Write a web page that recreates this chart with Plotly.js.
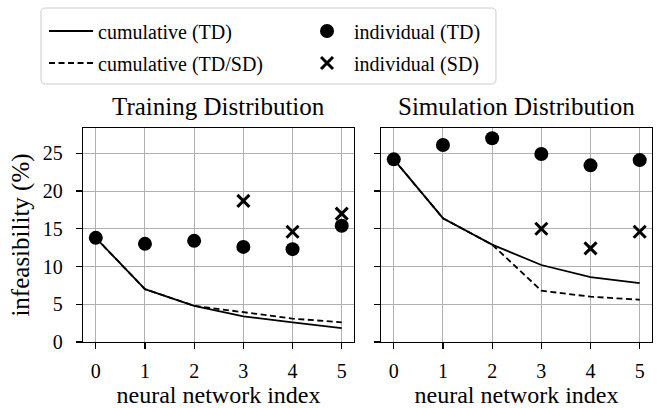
<!DOCTYPE html>
<html>
<head>
<meta charset="utf-8">
<script src="https://cdn.plot.ly/plotly-3.0.1.min.js"></script>
<style>html,body{margin:0;padding:0;background:#fff;}#chart{width:657px;height:408px;}</style>
</head>
<body>
<div id="chart"></div>
<script>
// ---- data ----
const nnIndex = [0, 1, 2, 3, 4, 5];
const sdIndex = [3, 4, 5];
const xTickLabels = ['0', '1', '2', '3', '4', '5'];
const yTickVals = [0, 5, 10, 15, 20, 25];

// Training Distribution panel
const trainCumTD   = [13.8, 7.0, 4.8, 3.4, 2.6, 1.85];
const trainCumTDSD = [13.8, 7.0, 4.8, 3.9, 3.1, 2.6];
const trainIndTD   = [13.8, 13.0, 13.4, 12.6, 12.3, 15.4];
const trainIndSD   = [18.7, 14.6, 17.0];

// Simulation Distribution panel
const simCumTD   = [24.2, 16.4, 12.9, 10.2, 8.6, 7.8];
const simCumTDSD = [24.2, 16.4, 12.9, 6.8, 6.0, 5.6];
const simIndTD   = [24.2, 26.1, 27.0, 24.9, 23.4, 24.1];
const simIndSD   = [15.0, 12.4, 14.6];

const names = ['cumulative (TD)', 'cumulative (TD/SD)', 'individual (TD)', 'individual (SD)'];
const panelTitles = ['Training Distribution', 'Simulation Distribution'];

// ---- styles ----
const FONT = "'Liberation Serif', 'Times New Roman', serif";
const solid = {color: '#000', width: 1.8};
const dashed = {color: '#000', width: 1.8, dash: '6px,3.5px'};
const dot = {symbol: 'circle', size: 14, color: '#000'};
const cross = {symbol: 'x-thin-open', size: 12, color: '#000', line: {color: '#000', width: 3}};

function panel(xa, ya, cum, cumSD, ind, indSD, show) {
  return [
    {x: nnIndex, y: cumSD, xaxis: xa, yaxis: ya, mode: 'lines', line: dashed, name: names[1], legend: 'legend2', showlegend: show},
    {x: nnIndex, y: cum, xaxis: xa, yaxis: ya, mode: 'lines', line: solid, name: names[0], legend: 'legend', showlegend: show},
    {x: nnIndex, y: ind, xaxis: xa, yaxis: ya, mode: 'markers', marker: dot, name: names[2], legend: 'legend3', showlegend: show},
    {x: sdIndex, y: indSD, xaxis: xa, yaxis: ya, mode: 'markers', marker: cross, name: names[3], legend: 'legend4', showlegend: show}
  ];
}

const data = panel('x', 'y', trainCumTD, trainCumTDSD, trainIndTD, trainIndSD, true)
  .concat(panel('x2', 'y2', simCumTD, simCumTDSD, simIndTD, simIndSD, false));

const axisCommon = {
  showline: true, mirror: true, linecolor: '#000', linewidth: 1.2,
  showgrid: true, gridcolor: '#b0b0b0', gridwidth: 1,
  ticks: 'outside', ticklen: 6, tickwidth: 1.2, tickcolor: '#000',
  zeroline: false, tickfont: {family: FONT, size: 20, color: '#000'}
};
const xCommon = Object.assign({}, axisCommon, {
  range: [-0.26, 5.25], tickvals: nnIndex, ticktext: xTickLabels, ticklabelstandoff: 5,
  title: {text: 'neural network index', font: {family: FONT, size: 24, color: '#000'}, standoff: 3}
});
const yCommon = Object.assign({}, axisCommon, {range: [0, 28.35], tickvals: yTickVals});

function leg(x, y) {
  return {x: x, y: y, xanchor: 'left', yanchor: 'middle', bgcolor: 'rgba(0,0,0,0)', borderwidth: 0,
    itemwidth: 44, font: {family: FONT, size: 20, color: '#000'}};
}

// rounded legend frame (paper coordinates)
const fx0 = -0.0738, fx1 = 0.7258, fy0 = 1.2056, fy1 = 1.5607, rx = 0.008, ry = 0.021;
const framePath = `M ${fx0 + rx},${fy1} L ${fx1 - rx},${fy1} Q ${fx1},${fy1} ${fx1},${fy1 - ry} ` +
  `L ${fx1},${fy0 + ry} Q ${fx1},${fy0} ${fx1 - rx},${fy0} L ${fx0 + rx},${fy0} Q ${fx0},${fy0} ${fx0},${fy0 + ry} ` +
  `L ${fx0},${fy1 - ry} Q ${fx0},${fy1} ${fx0 + rx},${fy1} Z`;

const layout = {
  width: 657, height: 408,
  margin: {l: 83, r: 5, t: 128, b: 66},
  paper_bgcolor: '#fff', plot_bgcolor: '#fff',
  font: {family: FONT, color: '#000'},
  xaxis: Object.assign({}, xCommon, {domain: [0, 0.4763], anchor: 'y'}),
  xaxis2: Object.assign({}, xCommon, {domain: [0.5237, 1], anchor: 'y2'}),
  yaxis: Object.assign({}, yCommon, {anchor: 'x', ticklabelstandoff: 9,
    title: {text: 'infeasibility (%)', font: {family: FONT, size: 25, color: '#000'}, standoff: 6}}),
  yaxis2: Object.assign({}, yCommon, {anchor: 'x2', matches: 'y', showticklabels: false}),
  legend: leg(-0.0685, 1.4533),
  legend2: leg(-0.0685, 1.3037),
  legend3: leg(0.3814, 1.4533),
  legend4: leg(0.3814, 1.3037),
  shapes: [{type: 'path', xref: 'paper', yref: 'paper', path: framePath,
    line: {color: '#cccccc', width: 1}, fillcolor: 'rgba(0,0,0,0)'}],
  annotations: panelTitles.map((t, i) => ({
    text: t, xref: 'paper', yref: 'paper', x: i === 0 ? 0.23815 : 0.76185, y: 1,
    xanchor: 'center', yanchor: 'bottom', yshift: 6, showarrow: false,
    font: {family: FONT, size: 25, color: '#000'}
  }))
};

Plotly.newPlot('chart', data, layout, {displayModeBar: false, staticPlot: true});
</script>
</body>
</html>
